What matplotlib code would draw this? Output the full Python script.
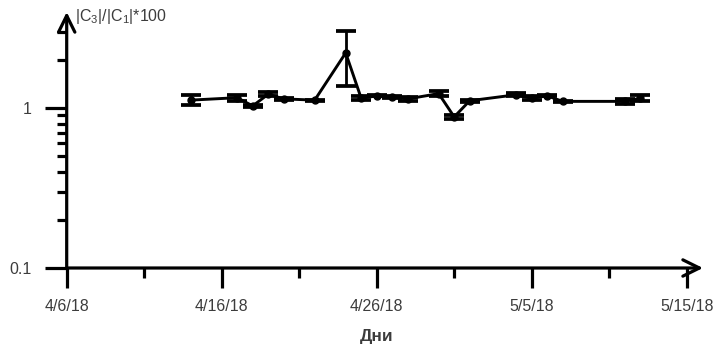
import matplotlib
matplotlib.use("Agg")
import matplotlib.pyplot as plt
import numpy as np
import pandas as pd

plt.rcParams['font.family'] = ['Liberation Sans', 'DejaVu Sans']
plt.rcParams['mathtext.fontset'] = 'custom'
plt.rcParams['mathtext.rm'] = 'Liberation Sans'
plt.rcParams['mathtext.it'] = 'Liberation Sans:italic'

# Measurement dates and ratio values with their errors
start_date = "2018-04-06"
dates = ["2018-04-14", "2018-04-17", "2018-04-18", "2018-04-19", "2018-04-20",
         "2018-04-22", "2018-04-24", "2018-04-25", "2018-04-26", "2018-04-27",
         "2018-04-28", "2018-04-30", "2018-05-01", "2018-05-02", "2018-05-05",
         "2018-05-06", "2018-05-07", "2018-05-08", "2018-05-12", "2018-05-13"]
ratio = [1.12, 1.16, 1.03, 1.22, 1.14,
         1.12, 2.21, 1.15, 1.19, 1.17,
         1.14, 1.23, 0.88, 1.11, 1.21,
         1.15, 1.19, 1.10, 1.10, 1.15]
ratio_err = [0.08, 0.05, 0.02, 0.04, 0.01,
             0.01, 0.84, 0.03, 0.01, 0.01,
             0.03, 0.04, 0.03, 0.02, 0.03,
             0.03, 0.01, 0.01, 0.04, 0.05]

tick_days = [0, 10, 20, 30, 40]
tick_labels = ["4/6/18", "4/16/18", "4/26/18", "5/5/18", "5/15/18"]
minor_days = [5, 15, 25, 35]
ytick_values = [0.1, 1]
ytick_labels = ["0.1", "1"]

days = (pd.to_datetime(dates) - pd.Timestamp(start_date)).days.values.astype(float)

W, H = 721, 350
fig = plt.figure(figsize=(W / 100, H / 100), dpi=100)
x0, x1 = 66.7, 703.0
y0, y1 = 268.0, 12.0
ax = fig.add_axes([x0 / W, 1 - y0 / H, (x1 - x0) / W, (y0 - y1) / H])

ax.errorbar(days, ratio, yerr=ratio_err, fmt='-o', color='black', lw=2.1,
            ms=5, elinewidth=2.0, capsize=7.5, capthick=2.7, zorder=3)

ax.set_yscale('log')
ax.set_ylim(0.1, 10 ** ((268 - 12) / 160 - 1))
ax.set_xlim(0, (x1 - x0) / 15.5)

for s in ax.spines.values():
    s.set_visible(False)

ax.set_yticks(ytick_values)
ax.set_yticklabels(ytick_labels)
ax.yaxis.set_minor_locator(matplotlib.ticker.LogLocator(base=10, subs=np.arange(2, 10)))
ax.yaxis.set_minor_formatter(matplotlib.ticker.NullFormatter())
ax.set_xticks(tick_days)
ax.set_xticklabels(tick_labels)
ax.set_xticks(minor_days, minor=True)

txt_color = '#3c3c3c'
ax.tick_params(axis='x', which='major', direction='out', length=14.5, width=2.3,
               pad=8, labelsize=11.5, labelcolor=txt_color)
ax.tick_params(axis='x', which='minor', direction='out', length=7.2, width=2.3)
ax.tick_params(axis='y', which='major', direction='out', length=16, width=2.3,
               pad=9, labelsize=11.5, labelcolor=txt_color)
ax.tick_params(axis='y', which='minor', direction='out', length=7.2, width=2.3)

# Axis lines with open arrowheads
arrow = dict(arrowstyle='->,head_length=0.85,head_width=0.42', lw=2.3,
             color='black', shrinkA=0, shrinkB=0, mutation_scale=14)
ax.annotate('', xy=(1, 0), xytext=(0, 0), xycoords='axes fraction',
            textcoords='axes fraction', arrowprops=arrow, annotation_clip=False)
ax.annotate('', xy=(0, 1), xytext=(0, 0), xycoords='axes fraction',
            textcoords='axes fraction', arrowprops=arrow, annotation_clip=False)

fig.text(75 / W, 1 - 17 / H, r'$|\mathrm{C}_3|/|\mathrm{C}_1|$*100', fontsize=11.5,
         color=txt_color, ha='left', va='center')
fig.text(376.7 / W, 1 - 337 / H, 'Дни', fontsize=12.5, fontweight='bold',
         color=txt_color, ha='center', va='center')

fig.savefig('out.png', dpi=100)
